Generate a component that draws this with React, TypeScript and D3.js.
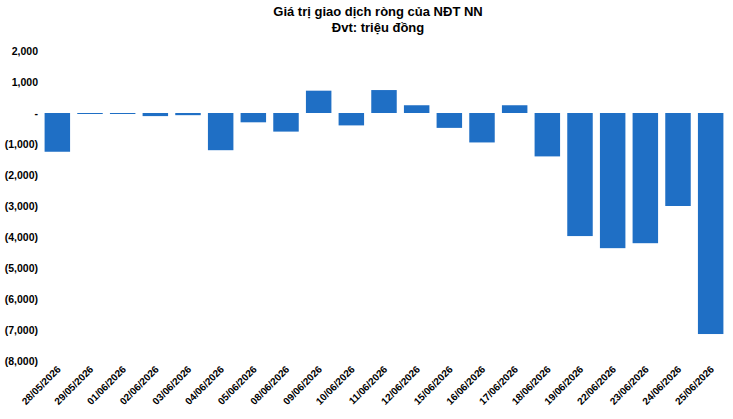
import React, { useEffect, useRef } from 'react';
import * as d3 from 'd3';

const dates = ['28/05/2026','29/05/2026','01/06/2026','02/06/2026','03/06/2026','04/06/2026','05/06/2026','08/06/2026','09/06/2026','10/06/2026','11/06/2026','12/06/2026','15/06/2026','16/06/2026','17/06/2026','18/06/2026','19/06/2026','22/06/2026','23/06/2026','24/06/2026','25/06/2026'];
const values = [-1250,-20,-20,-100,-70,-1200,-300,-600,720,-400,740,250,-480,-950,250,-1400,-3970,-4360,-4200,-3000,-7130];
const yTicks = [2000,1000,0,-1000,-2000,-3000,-4000,-5000,-6000,-7000,-8000];

const fmt = (v: number) => v === 0 ? '-' : v < 0 ? `(${d3.format(',')(-v)})` : d3.format(',')(v);

export default function App() {
  const ref = useRef<SVGSVGElement>(null);

  useEffect(() => {
    const svg = d3.select(ref.current);
    svg.selectAll('*').remove();
    const width = 733, height = 419;
    const font = 'Arial, "Liberation Sans", sans-serif';

    const x = d3.scaleBand().domain(dates).range([41, 727]).paddingInner(0.22).paddingOuter(0.11);
    const y = d3.scaleLinear().domain([-8000, 2000]).range([361, 51]);

    svg.append('text').attr('x', 378).attr('y', 16).attr('text-anchor', 'middle')
      .style('font-family', font).style('font-size', '13px').style('font-weight', 'bold')
      .text('Giá trị giao dịch ròng của NĐT NN');
    svg.append('text').attr('x', 378).attr('y', 32).attr('text-anchor', 'middle')
      .style('font-family', font).style('font-size', '13px').style('font-weight', 'bold')
      .text('Đvt: triệu đồng');

    svg.append('g').selectAll('text').data(yTicks).enter().append('text')
      .attr('x', 38).attr('y', d => y(d) + 4).attr('text-anchor', 'end')
      .style('font-family', font).style('font-size', '10.5px').style('font-weight', 'bold')
      .text(d => fmt(d));

    svg.append('g').selectAll('rect').data(values).enter().append('rect')
      .attr('x', (_, i) => x(dates[i])!)
      .attr('width', x.bandwidth())
      .attr('y', d => y(Math.max(0, d)))
      .attr('height', d => Math.max(1, Math.abs(y(d) - y(0))))
      .attr('fill', '#1f6fc5');

    svg.append('g').selectAll('text').data(dates).enter().append('text')
      .attr('transform', d => `translate(${x(d)! + x.bandwidth() / 2 + 4},${370}) rotate(-45)`)
      .attr('text-anchor', 'end')
      .style('font-family', font).style('font-size', '10px').style('font-weight', 'bold')
      .text(d => d);
  }, []);

  return <svg ref={ref} width={733} height={419} style={{ position: 'absolute', left: 0, top: 0, background: '#fff' }} />;
}
